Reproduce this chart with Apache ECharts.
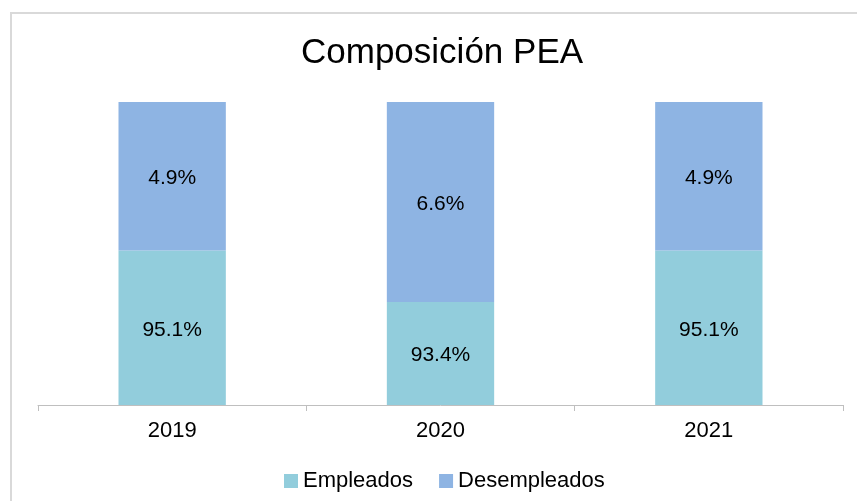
<!DOCTYPE html>
<html>
<head>
<meta charset="utf-8">
<script src="https://cdn.jsdelivr.net/npm/echarts@6/dist/echarts.min.js"></script>
<style>html,body{margin:0;padding:0;background:#fff}#main{width:857px;height:501px}</style>
</head>
<body>
<div id="main"></div>
<script>
var years = ['2019', '2020', '2021'];
var empleados = [95.1, 93.4, 95.1];
var desempleados = [4.9, 6.6, 4.9];

var chart = echarts.init(document.getElementById('main'));
var fontFam = 'Liberation Sans, Arial, sans-serif';
function lbl(v) { return v.value.toFixed(1) + '%'; }

chart.setOption({
    animation: false,
    title: {
        text: 'Composición PEA',
        left: 296,
        top: 31,
        textStyle: { fontFamily: fontFam, fontSize: 35, fontWeight: 'normal', color: '#000' }
    },
    graphic: [{
        type: 'rect',
        shape: { x: 11, y: 13, width: 900, height: 600 },
        style: { fill: 'none', stroke: '#d9d9d9', lineWidth: 2 },
        silent: true
    }],
    legend: {
        bottom: 4,
        left: 279,
        itemWidth: 14,
        itemHeight: 14,
        itemGap: 26,
        icon: 'rect',
        textStyle: { fontFamily: fontFam, fontSize: 22, color: '#000' },
        data: ['Empleados', 'Desempleados']
    },
    grid: { left: 38, right: 14, top: 102, bottom: 96 },
    xAxis: {
        type: 'category',
        data: years,
        axisLine: { lineStyle: { color: '#bfbfbf', width: 1 } },
        axisTick: { show: true, length: 6, lineStyle: { color: '#bfbfbf' } },
        axisLabel: { fontFamily: fontFam, fontSize: 22, color: '#000', margin: 15 }
    },
    yAxis: {
        type: 'value',
        min: 90,
        max: 100,
        show: false
    },
    series: [{
        name: 'Empleados',
        type: 'bar',
        stack: 'pea',
        data: empleados,
        barWidth: '40%',
        itemStyle: { color: '#92CDDC' },
        label: { show: true, position: 'inside', formatter: lbl, fontFamily: fontFam, fontSize: 21, color: '#000', offset: [0, 2] }
    }, {
        name: 'Desempleados',
        type: 'bar',
        stack: 'pea',
        data: desempleados,
        barWidth: '40%',
        itemStyle: { color: '#8EB4E3' },
        label: { show: true, position: 'inside', formatter: lbl, fontFamily: fontFam, fontSize: 21, color: '#000', offset: [0, 2] }
    }]
});
</script>
</body>
</html>
